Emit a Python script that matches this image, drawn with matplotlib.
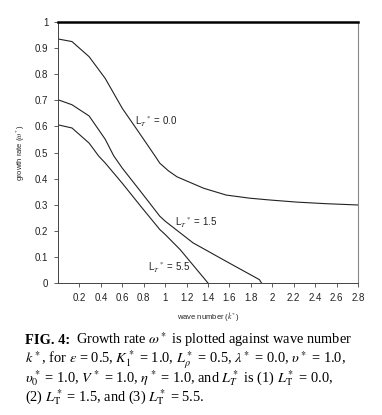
import matplotlib
matplotlib.use("Agg")
import matplotlib.pyplot as plt

plt.rcParams['font.family'] = ['Liberation Sans', 'DejaVu Sans']
plt.rcParams['mathtext.fontset'] = 'stix'

# Data
k_00 = [0.0, 0.13, 0.29, 0.44, 0.60, 0.75, 0.91, 0.95, 1.03, 1.11, 1.36, 1.57, 1.79, 1.98, 2.23, 2.50, 2.80]
w_00 = [0.935, 0.925, 0.867, 0.784, 0.669, 0.580, 0.484, 0.459, 0.430, 0.407, 0.363, 0.337, 0.325, 0.318, 0.310, 0.304, 0.299]
k_15 = [0.0, 0.13, 0.29, 0.44, 0.52, 0.60, 0.78, 0.95, 1.00, 1.26, 1.57, 1.88, 1.90]
w_15 = [0.702, 0.683, 0.640, 0.551, 0.487, 0.440, 0.346, 0.256, 0.237, 0.154, 0.083, 0.013, 0.0]
k_55 = [0.0, 0.13, 0.29, 0.38, 0.44, 0.60, 0.78, 0.95, 1.00, 1.14, 1.40]
w_55 = [0.606, 0.594, 0.536, 0.486, 0.460, 0.382, 0.290, 0.205, 0.186, 0.128, 0.0]

xticks = [0.2, 0.4, 0.6, 0.8, 1.0, 1.2, 1.4, 1.6, 1.8, 2.0, 2.2, 2.4, 2.6, 2.8]
xticklabels = ['0.2', '0.4', '0.6', '0.8', '1', '1.2', '1.4', '1.6', '1.8', '2', '2.2', '2.4', '2.6', '2.8']
yticks = [0, 0.1, 0.2, 0.3, 0.4, 0.5, 0.6, 0.7, 0.8, 0.9, 1.0]
yticklabels = ['0', '0.1', '0.2', '0.3', '0.4', '0.5', '0.6', '0.7', '0.8', '0.9', '1']

fig = plt.figure(figsize=(3.82, 4.15), dpi=100)
ax = fig.add_axes([0.152, 0.318, 0.785, 0.629])

for kk, ww in [(k_00, w_00), (k_15, w_15), (k_55, w_55)]:
    ax.plot(kk, ww, color='#222222', lw=0.8)

ax.set_xlim(0, 2.8)
ax.set_ylim(0, 1.0)
ax.set_xticks(xticks)
ax.set_xticklabels(xticklabels)
ax.set_yticks(yticks)
ax.set_yticklabels(yticklabels)
ax.tick_params(labelsize=7, length=3, width=0.6, color='#444444', pad=4, labelcolor='#222222')

ax.spines['top'].set_linewidth(1.8)
ax.spines['top'].set_color('black')
ax.spines['right'].set_linewidth(0.8)
ax.spines['right'].set_color('#888888')
ax.spines['right'].set_linestyle((0, (1, 1)))
for s in ['left', 'bottom']:
    ax.spines[s].set_linewidth(0.7)
    ax.spines[s].set_color('#444444')

ax.set_ylabel(r'growth rate ($\omega$$^*$)', fontsize=5.5, labelpad=6, color='#222222')
ax.set_xlabel(r'wave number ($k$$^*$)', fontsize=5.5, labelpad=6, color='#222222')

lab_kw = dict(fontsize=7, color='#222222', va='center', ha='left')
ax.text(0.72, 0.617, r'L$_T$$^*$ = 0.0', **lab_kw)
ax.text(1.09, 0.23, r'L$_T$$^*$ = 1.5', **lab_kw)
ax.text(0.84, 0.057, r'L$_T$$^*$ = 5.5', **lab_kw)

cap_kw = dict(fontsize=10.4, family=['Liberation Serif', 'DejaVu Serif'], va='baseline', ha='left')
baselines = [344, 363, 382.5, 401]
fig.text(25/382, 1 - baselines[0]/415, 'FIG. 4:', fontweight='bold', **cap_kw)
fig.text(76/382, 1 - baselines[0]/415, r'Growth rate $\omega^*$ is plotted against wave number', **cap_kw)
fig.text(25/382, 1 - baselines[1]/415, r'$k^*$, for $\varepsilon$ = 0.5, $K_1^*$ = 1.0, $L_\rho^*$ = 0.5, $\lambda^*$ = 0.0, $\upsilon^*$ = 1.0,', **cap_kw)
fig.text(25/382, 1 - baselines[2]/415, r'$\upsilon_0^*$ = 1.0, $V^*$ = 1.0, $\eta^*$ = 1.0, and $L_T^*$ is (1) $L_{\rm T}^*$ = 0.0,', **cap_kw)
fig.text(25/382, 1 - baselines[3]/415, r'(2) $L_{\rm T}^*$ = 1.5, and (3) $L_{\rm T}^*$ = 5.5.', **cap_kw)

fig.savefig('out.png', dpi=100)
